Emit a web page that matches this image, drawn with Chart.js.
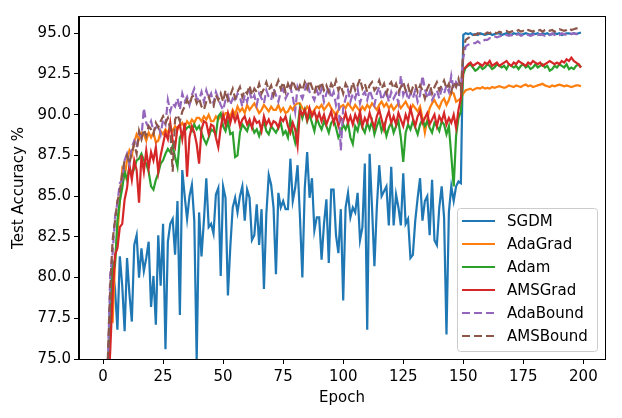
<!DOCTYPE html>
<html>
<head>
<meta charset="utf-8">
<script src="https://cdn.jsdelivr.net/npm/chart.js@4.4.1/dist/chart.umd.min.js"></script>
<style>
  html, body { margin: 0; padding: 0; background: #fff; }
  #wrap { width: 622px; height: 418px; }
</style>
</head>
<body>
<div id="wrap"><canvas id="accChart" width="622" height="418"></canvas></div>
<script>
// epoch index 0..199
var epochs = Array.from({ length: 200 }, function (_, i) { return i; });

var xTicks = [0, 25, 50, 75, 100, 125, 150, 175, 200];
var yTicks = [75, 77.5, 80, 82.5, 85, 87.5, 90, 92.5, 95];

var sgdm = [
  50, 65, 74, 78.8, 80.5, 79.3, 76.8, 81.3, 79.5, 76.7,
  81.2, 79.0, 77.3, 82.0, 82.6, 80.0, 81.8, 80.4, 81.2, 82.2,
  78.2, 80.1, 77.1, 82.6, 79.5, 83.3, 75.6, 82.2, 83.3, 83.6,
  81.4, 84.7, 77.7, 86.6, 85.0, 83.6, 85.0, 85.7, 83.5, 74.9,
  84.0, 81.3, 83.5, 86.1, 83.1, 83.3, 82.7, 85.1, 85.5, 80.1,
  85.6, 84.9, 78.9, 81.9, 84.3, 84.9, 84.0, 85.0, 85.6, 83.5,
  85.4, 84.9, 82.3, 82.6, 84.5, 82.0, 84.2, 79.3, 83.9, 86.3,
  85.7, 84.3, 80.2, 85.2, 84.3, 84.7, 84.2, 84.2, 87.3, 84.7,
  85.5, 86.9, 83.7, 80.0, 85.5, 87.7, 84.9, 86.1, 82.9, 83.7,
  83.7, 81.1, 83.3, 84.8, 80.9, 85.4, 85.4, 82.6, 81.5, 84.2,
  78.6, 84.3, 85.2, 83.7, 84.3, 84.0, 85.2, 82.3, 83.1, 87.0,
  76.8, 87.6, 84.3, 80.7, 84.3, 86.9, 85.0, 85.3, 85.6, 83.2,
  86.8, 83.2, 85.1, 84.3, 83.2, 86.4, 83.3, 83.6, 81.2, 81.4,
  83.5, 84.9, 86.1, 83.5, 84.7, 85.0, 82.6, 86.0, 82.3, 82.0,
  84.3, 85.6, 83.7, 76.5, 84.0, 85.6, 84.7, 85.6, 85.9, 85.8,
  94.9, 95.0, 94.95, 95.0, 94.9, 94.95, 94.9, 95.0, 94.95, 94.9,
  94.95, 95.0, 94.9, 94.95, 95.0, 95.0, 94.9, 94.95, 95.0, 94.95,
  94.9, 95.0, 94.95, 95.0, 94.9, 94.95, 95.0, 94.95, 94.9, 95.0,
  94.95, 95.0, 94.9, 95.0, 94.95, 95.0, 94.9, 94.95, 95.0, 94.95,
  95.0, 94.9, 94.95, 95.0, 95.0, 94.95, 95.0, 94.95, 95.0, 95.05
];

var adagrad = [
  55, 68, 74.0, 77.4, 77.3, 81.0, 82.7, 84.7, 86.6, 86.2,
  87.2, 87.8, 87.5, 88.3, 88.8, 88.5, 88.9, 88.8, 88.4, 88.9,
  88.6, 88.9, 88.3, 88.4, 89.0, 88.8, 89.1, 88.9, 89.2, 89.0,
  89.3, 89.1, 89.3, 89.5, 89.2, 89.6, 89.4, 89.7, 89.5, 89.8,
  89.8, 89.6, 89.9, 89.7, 90.0, 89.6, 89.6, 89.9, 89.7, 90.0,
  89.8, 90.1, 90.1, 89.9, 90.3, 90.0, 90.5, 90.2, 90.4, 90.1,
  90.6, 90.3, 90.5, 90.7, 90.4, 90.1, 90.3, 90.6, 90.4, 90.2,
  90.5, 90.3, 90.3, 90.6, 90.2, 90.4, 90.1, 90.2, 90.5, 90.3,
  90.6, 90.7, 90.7, 90.4, 90.2, 90.5, 90.3, 90.1, 90.3, 90.5,
  90.4, 90.6, 90.3, 90.5, 90.7, 90.4, 90.2, 89.9, 90.3, 90.5,
  90.6, 90.4, 90.7, 90.5, 90.3, 90.6, 90.4, 90.2, 90.5, 90.3,
  90.6, 90.4, 90.7, 90.5, 90.3, 90.6, 90.8, 90.5, 90.7, 90.4,
  90.6, 90.3, 90.5, 90.7, 90.4, 90.6, 90.8, 90.5, 90.3, 90.6,
  90.4, 90.2, 90.5, 89.8, 88.9, 89.7, 90.4, 90.7, 90.9, 90.6,
  90.4, 90.8, 91.0, 90.6, 90.9, 91.4, 91.3, 90.8, 90.9, 91.0,
  91.3, 91.5, 91.55, 91.6, 91.5, 91.6, 91.65, 91.6, 91.7, 91.6,
  91.65, 91.6, 91.7, 91.65, 91.7, 91.75, 91.7, 91.65, 91.7, 91.8,
  91.75, 91.7, 91.8, 91.75, 91.7, 91.8, 91.85, 91.75, 91.8, 91.7,
  91.75, 91.8, 91.85, 91.9, 91.8, 91.75, 91.7, 91.8, 91.75, 91.8,
  91.85, 91.8, 91.75, 91.8, 91.75, 91.7, 91.75, 91.8, 91.8, 91.75
];

var adam = [
  57, 68, 73.5, 77.2, 81.0, 80.8, 83.5, 84.7, 85.5, 86.5,
  86.0, 86.8, 86.3, 86.7, 87.2, 87.3, 87.6, 87.2, 87.0, 86.5,
  85.6, 85.4, 86.0, 86.4, 87.0, 87.2, 87.6, 87.9, 87.7, 88.1,
  87.4, 86.8, 88.6, 88.9, 89.0, 89.2, 89.3, 89.0, 89.4, 89.1,
  89.3, 88.9, 88.5, 88.2, 88.6, 89.1, 89.0, 88.8, 89.9, 90.1,
  89.3, 89.0, 89.6, 88.8, 88.9, 87.4, 87.5, 88.9, 89.4, 89.2,
  89.0, 89.5, 89.3, 88.9, 89.1, 88.7, 89.2, 89.6, 89.0, 88.8,
  89.3, 89.1, 88.9, 89.2, 89.5, 88.8, 89.0, 88.6, 89.7, 88.9,
  88.3, 89.2, 90.4, 89.8, 90.3, 89.6, 90.0, 89.5, 89.0, 89.8,
  89.4, 89.1, 89.6, 89.3, 88.9, 89.5, 89.7, 89.2, 88.6, 88.9,
  89.4, 89.1, 89.5, 88.6, 88.2, 89.3, 89.0, 89.7, 89.2, 88.9,
  89.5, 89.1, 89.6, 88.8, 89.3, 89.7, 89.0, 89.4, 88.7, 89.2,
  89.5, 88.9, 89.3, 89.6, 88.6, 87.1, 88.9, 89.4, 89.1, 89.6,
  89.2, 88.8, 89.4, 89.7, 89.3, 89.6, 89.2, 88.9, 89.5, 89.3,
  89.0, 89.6, 89.4, 88.8, 89.3, 87.5, 85.6, 88.7, 89.8, 90.2,
  92.5, 92.9, 93.0, 93.1, 92.9, 92.7, 92.8, 93.0, 92.8, 92.9,
  93.1, 93.0, 92.8, 92.9, 93.1, 93.0, 92.9, 93.0, 92.8, 93.1,
  93.0, 92.9, 93.0, 92.8, 93.0, 93.1, 92.9, 93.0, 92.8, 92.9,
  93.1, 92.9, 93.0, 93.1, 92.9, 93.0, 92.7, 92.8, 93.0, 92.9,
  93.1, 93.0, 92.9, 93.1, 92.8, 92.9, 92.8, 93.0, 93.1, 92.9
];

var amsgrad = [
  56, 67, 72.5, 75.5, 79.0, 81.4, 81.8, 83.1, 83.3, 84.8,
  85.5, 86.9, 86.0, 87.2, 86.6, 84.6, 87.5, 86.5, 87.8, 86.7,
  87.7, 87.2, 88.0, 86.5, 87.5, 88.2, 88.9, 88.5, 89.5, 88.4,
  88.0, 89.2, 89.4, 88.5, 89.5, 86.2, 88.6, 89.3, 88.9, 88.2,
  87.0, 89.1, 89.6, 89.5, 88.8, 89.4, 89.3, 88.6, 88.0, 89.2,
  90.0, 89.4, 90.1, 89.5, 90.1, 89.6, 90.0, 89.3, 89.7, 89.9,
  89.4, 89.7, 89.2, 89.8, 89.5, 89.6, 89.0, 89.9, 89.4, 89.7,
  89.3, 89.6, 89.5, 89.2, 89.8, 89.6, 89.9, 89.3, 88.9, 89.5,
  89.1, 88.1, 90.3, 90.0, 90.3, 89.7, 90.4, 89.9, 90.2, 89.7,
  90.1, 89.6, 90.0, 89.4, 89.8, 90.2, 89.5, 90.0, 89.3, 89.8,
  89.6, 90.1, 89.5, 89.9, 89.4, 90.0, 89.6, 90.2, 89.3, 89.8,
  89.5, 90.1, 89.6, 89.2, 89.9, 90.3, 89.7, 89.1, 89.8, 90.2,
  89.5, 89.9, 89.4, 90.1, 89.7, 89.3, 90.0, 89.6, 90.4, 89.8,
  89.3, 89.9, 90.2, 89.5, 89.8, 90.1, 89.4, 89.7, 90.0, 89.3,
  89.9, 89.6, 90.1, 89.4, 89.8, 89.5, 90.0, 89.2, 90.3, 91.0,
  92.8, 92.9, 93.1, 93.2, 93.0, 93.1, 93.2, 93.1, 93.0, 93.2,
  93.1, 93.3, 93.0, 93.1, 93.2, 93.0, 93.1, 93.2, 93.3, 93.1,
  93.0, 93.2, 93.1, 93.3, 93.2, 93.1, 93.0, 93.2, 93.1, 93.3,
  93.2, 93.1, 93.2, 93.0, 93.1, 93.2, 93.3, 93.2, 93.1, 93.2,
  93.1, 93.3, 93.2, 93.4, 93.3, 93.5, 93.3, 93.2, 93.1, 92.9
];

var adabound = [
  60, 70, 74.5, 80.2, 81.5, 83.7, 84.6, 85.8, 86.0, 87.2,
  87.6, 87.0, 88.0, 88.4, 88.0, 88.8, 88.6, 90.4, 89.5, 89.2,
  89.6, 89.0, 89.2, 89.4, 88.8, 89.7, 89.4, 90.9, 90.2, 90.7,
  90.5, 91.0, 90.3, 91.3, 90.8, 91.1, 90.6, 91.2, 91.6, 91.0,
  90.9, 91.4, 90.8, 91.5, 91.0, 91.3, 90.7, 91.4, 91.0, 90.6,
  90.3, 90.9, 91.2, 90.6, 91.0, 90.8, 91.3, 91.1, 90.5, 91.2,
  90.8, 91.4, 90.9, 91.2, 90.6, 91.3, 91.0, 90.7, 91.5, 91.1,
  90.9, 91.6, 91.2, 90.8, 91.4, 91.6, 91.0, 91.3, 91.7, 91.1,
  90.2, 91.7, 91.3, 91.0, 91.5, 92.0, 91.4, 91.2, 90.9, 91.5,
  91.1, 91.6, 90.8, 91.3, 91.7, 91.0, 91.4, 90.6, 91.2, 87.8,
  90.4, 91.0, 91.5, 90.8, 91.3, 91.0, 91.6, 90.7, 91.2, 91.4,
  90.9, 91.5, 91.1, 90.6, 91.3, 91.7, 90.9, 91.2, 91.5, 90.8,
  91.4, 91.0, 91.3, 90.7, 92.4, 91.2, 91.6, 90.9, 91.3, 91.0,
  91.5, 90.8, 91.2, 92.4, 91.6, 91.0, 91.4, 90.9, 91.2, 91.5,
  91.0, 91.6, 91.3, 91.8, 91.4, 92.4, 91.6, 92.0, 91.8, 91.7,
  93.5, 94.2, 94.3, 94.35, 94.4, 94.4, 94.5, 94.4, 94.5, 94.6,
  94.6, 94.7, 94.7, 94.8, 94.75, 94.8, 94.85, 94.8, 94.9, 94.85,
  94.9, 94.8, 94.9, 94.95, 94.85, 94.9, 94.95, 94.9, 94.85, 94.9,
  95.0, 94.9, 94.95, 94.9, 94.85, 94.95, 94.9, 95.0, 94.9, 94.95,
  94.9, 95.0, 94.95, 94.9, 95.0, 94.95, 95.0, 94.95, 95.0, 95.0
];

var amsbound = [
  58, 69, 75.0, 79.4, 82.3, 83.5, 84.7, 85.3, 86.4, 87.2,
  87.5, 87.0, 87.7, 88.2, 87.6, 89.0, 88.5, 89.1, 88.7, 89.3,
  89.1, 88.8, 89.5, 89.2, 89.6, 89.9, 89.5, 89.8, 89.1, 86.5,
  89.7, 90.0, 89.6, 90.2, 90.5, 90.9, 90.6, 91.1, 91.2, 90.7,
  91.0, 90.5, 90.3, 90.8, 91.1, 90.6, 90.5, 91.2, 90.9, 91.3,
  90.8, 91.5, 90.9, 91.2, 91.6, 91.0, 91.4, 91.7, 91.1, 91.5,
  91.3, 91.8, 91.2, 91.6, 91.4, 91.9, 91.3, 91.6, 92.0, 91.5,
  91.8, 91.2, 91.7, 92.1, 91.6, 92.0, 91.4, 91.9, 91.5, 92.1,
  91.7, 91.4, 91.8, 91.5, 92.0, 91.6, 92.1, 91.7, 91.3, 91.9,
  91.6, 92.0, 91.5, 91.8, 91.4, 91.9, 91.6, 92.1, 91.5, 91.8,
  91.3, 91.9, 91.6, 91.4, 92.0, 91.5, 91.8, 92.2, 91.6, 91.9,
  91.4, 91.8, 92.0, 91.5, 91.7, 92.1, 91.6, 91.9, 91.3, 91.8,
  92.0, 91.6, 91.9, 91.4, 91.7, 92.0, 91.5, 91.8, 91.2, 91.7,
  91.9, 91.4, 91.8, 91.5, 91.0, 91.6, 91.9, 91.3, 91.7, 92.0,
  91.5, 91.8, 92.1, 91.6, 91.9, 91.4, 92.0, 91.7, 92.2, 91.5,
  94.0, 94.6, 94.7, 94.8, 94.9, 94.9, 95.0, 94.95, 95.0, 94.95,
  95.05, 95.0, 95.1, 95.05, 95.0, 95.1, 95.05, 95.1, 95.15, 95.05,
  95.1, 95.15, 95.1, 95.2, 95.1, 95.15, 95.1, 95.2, 95.15, 95.1,
  95.2, 95.15, 95.2, 95.1, 95.2, 95.25, 95.15, 95.2, 95.1, 95.2,
  95.25, 95.2, 95.15, 95.2, 95.3, 95.2, 95.25, 95.3, 95.3, 95.3
];

var FONT = { family: 'DejaVu Sans', size: 15 };

function series(label, values, color, dashed, order) {
  return {
    label: label,
    order: order, // higher order is drawn first (below)
    data: values.map(function (v, i) { return { x: epochs[i], y: v }; }),
    borderColor: color,
    backgroundColor: color,
    borderWidth: 2.2,
    borderDash: dashed ? [8, 4] : [],
    pointRadius: 0,
    tension: 0,
    fill: false,
    clip: 0
  };
}

// legend box in lower right + black frame, drawn by hand like matplotlib
var frameAndLegend = {
  id: 'frameAndLegend',
  afterDraw: function (chart) {
    var ctx = chart.ctx, area = chart.chartArea;
    ctx.save();
    ctx.strokeStyle = '#000';
    ctx.lineWidth = 1;
    ctx.strokeRect(Math.round(area.left) - 0.5, Math.round(area.top) - 0.5,
      Math.round(area.right - area.left) + 1, Math.round(area.bottom - area.top) + 1);

    var w = 140, h = 143, rowH = 23;
    var x0 = area.right - 8 - w, y0 = area.bottom - 8 - h;
    ctx.beginPath();
    ctx.roundRect(x0 + 0.5, y0 + 0.5, w, h, 3);
    ctx.fillStyle = 'rgba(255,255,255,0.8)';
    ctx.fill();
    ctx.strokeStyle = '#cccccc';
    ctx.stroke();

    ctx.font = FONT.size + 'px "' + FONT.family + '"';
    ctx.textBaseline = 'middle';
    ctx.textAlign = 'left';
    chart.data.datasets.forEach(function (ds, i) {
      var y = y0 + 13 + i * rowH;
      ctx.beginPath();
      ctx.setLineDash(ds.borderDash);
      ctx.strokeStyle = ds.borderColor;
      ctx.lineWidth = ds.borderWidth;
      ctx.moveTo(x0 + 5, y);
      ctx.lineTo(x0 + 38, y);
      ctx.stroke();
      ctx.setLineDash([]);
      ctx.fillStyle = '#000';
      ctx.fillText(ds.label, x0 + 50, y + 1);
    });
    ctx.restore();
  }
};

var ctx = document.getElementById('accChart').getContext('2d');
var accChart = new Chart(ctx, {
  type: 'line',
  data: {
    datasets: [
      series('SGDM', sgdm, '#1f77b4', false, 6),
      series('AdaGrad', adagrad, '#ff7f0e', false, 5),
      series('Adam', adam, '#2ca02c', false, 4),
      series('AMSGrad', amsgrad, '#d62728', false, 3),
      series('AdaBound', adabound, '#9467bd', true, 2),
      series('AMSBound', amsbound, '#8c564b', true, 1)
    ]
  },
  options: {
    responsive: false,
    animation: false,
    devicePixelRatio: 1,
    layout: { padding: { top: 17, right: 17, left: 0, bottom: 0 } },
    plugins: {
      legend: { display: false },
      tooltip: { enabled: false }
    },
    scales: {
      x: {
        type: 'linear',
        min: -10,
        max: 209,
        afterBuildTicks: function (scale) {
          scale.ticks = xTicks.map(function (v) { return { value: v }; });
        },
        afterFit: function (scale) { scale.height = 59; },
        ticks: { font: FONT, color: '#000', padding: 4, maxRotation: 0, autoSkip: false },
        grid: { display: true, drawOnChartArea: false, drawTicks: true, tickLength: 5, color: '#000' },
        border: { display: true, color: '#000' },
        title: { display: true, text: 'Epoch', font: FONT, color: '#000', padding: { top: 0, bottom: 11 } }
      },
      y: {
        min: 75,
        max: 96,
        afterBuildTicks: function (scale) {
          scale.ticks = yTicks.map(function (v) { return { value: v }; });
        },
        afterFit: function (scale) { scale.width = 79; },
        ticks: {
          font: FONT, color: '#000', padding: 3, autoSkip: false,
          callback: function (v) { return Number(v).toFixed(1); }
        },
        grid: { display: true, drawOnChartArea: false, drawTicks: true, tickLength: 5, color: '#000' },
        border: { display: true, color: '#000' },
        title: { display: true, text: 'Test Accuracy %', font: FONT, color: '#000', padding: { top: 10, bottom: 0 } }
      }
    }
  },
  plugins: [frameAndLegend]
});
</script>
</body>
</html>
